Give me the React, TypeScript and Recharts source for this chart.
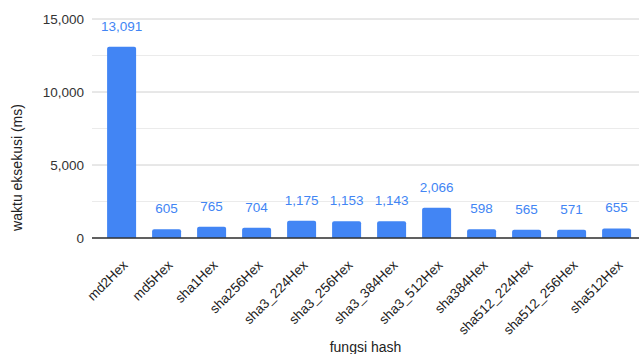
import React from "react";
import { BarChart, Bar, XAxis, YAxis, CartesianGrid, LabelList, Label } from "recharts";

const hashFunctions = [
  "md2Hex",
  "md5Hex",
  "sha1Hex",
  "sha256Hex",
  "sha3_224Hex",
  "sha3_256Hex",
  "sha3_384Hex",
  "sha3_512Hex",
  "sha384Hex",
  "sha512_224Hex",
  "sha512_256Hex",
  "sha512Hex",
];

const executionMs = [13091, 605, 765, 704, 1175, 1153, 1143, 2066, 598, 565, 571, 655];

const majorTicks = [0, 5000, 10000, 15000];
const minorTicks = [2500, 7500, 12500];

const data = hashFunctions.map((name, i) => ({ name, ms: executionMs[i] }));

const FONT = "Arial, 'Liberation Sans', sans-serif";
const BLUE = "#4285F4";

const fmt = (v: number) => v.toLocaleString("en-US");

const XTick = (props: any) => {
  const { x, y, payload } = props;
  return (
    <g transform={`translate(${x + 7},${y + 20})`}>
      <text
        x={0}
        y={0}
        textAnchor="end"
        transform="rotate(-45)"
        fill="#222"
        fontSize={13.5}
        fontFamily={FONT}
      >
        {payload.value}
      </text>
    </g>
  );
};

const YTitle = (props: any) => {
  const { viewBox } = props;
  const cx = viewBox.x + 17;
  const cy = viewBox.y + viewBox.height / 2 + 39;
  return (
    <text
      x={cx}
      y={cy}
      transform={`rotate(-90 ${cx} ${cy})`}
      textAnchor="middle"
      dominantBaseline="central"
      fill="#222"
      fontSize={14}
      fontFamily={FONT}
    >
      waktu eksekusi (ms)
    </text>
  );
};

export default function App() {
  return (
    <div style={{ position: "absolute", left: 0, top: 0, background: "#fff" }}>
      <BarChart
        width={642}
        height={354}
        data={data}
        margin={{ top: 19, right: 3, bottom: 0, left: 0 }}
        barCategoryGap="18%"
      >
        <CartesianGrid vertical={false} horizontalValues={minorTicks} stroke="#ebebeb" />
        <CartesianGrid vertical={false} horizontalValues={majorTicks} stroke="#d0d0d0" />
        <XAxis
          dataKey="name"
          interval={0}
          height={116}
          tick={<XTick />}
          tickLine={false}
          axisLine={{ stroke: "#333", strokeWidth: 1.5 }}
          padding={{ left: 7, right: 0 }}
        >
          <Label
            value="fungsi hash"
            position="insideBottom"
            offset={2}
            fill="#222"
            fontSize={14}
            fontFamily={FONT}
          />
        </XAxis>
        <YAxis
          width={92}
          domain={[0, 15000]}
          ticks={majorTicks}
          tickFormatter={fmt}
          tickLine={false}
          axisLine={false}
          tickMargin={2}
          tick={{ fill: "#333", fontSize: 13.5, fontFamily: FONT }}
        >
          <Label content={<YTitle />} />
        </YAxis>
        <Bar dataKey="ms" fill={BLUE} radius={[2, 2, 0, 0]} isAnimationActive={false}>
          <LabelList
            dataKey="ms"
            position="top"
            offset={16}
            formatter={(v: any) => fmt(Number(v))}
            fill={BLUE}
            fontSize={13.5}
            fontFamily={FONT}
          />
        </Bar>
      </BarChart>
    </div>
  );
}
